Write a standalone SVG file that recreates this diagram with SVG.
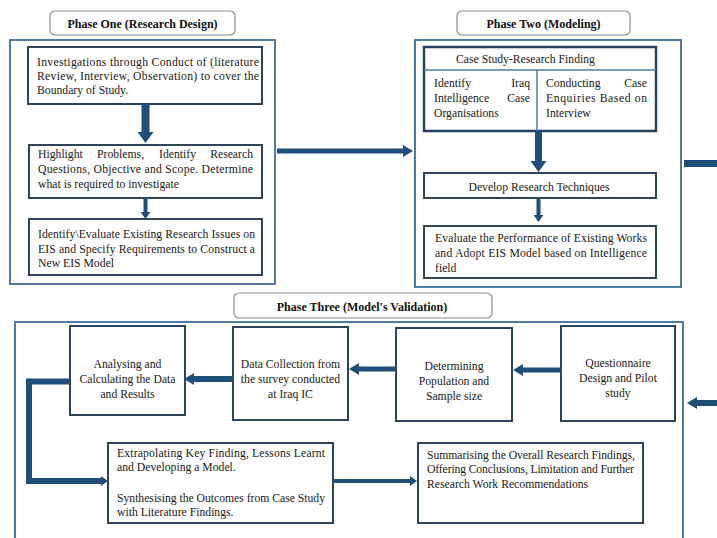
<svg xmlns="http://www.w3.org/2000/svg" width="717" height="538" viewBox="0 0 717 538">
<style>
.bg{fill:#ffffff}
.phase{fill:none;stroke:#4f7ca3;stroke-width:2}
.title{fill:#ffffff;stroke:#8c8c8c;stroke-width:1.2}
.box{fill:#ffffff;stroke:#2e4559;stroke-width:2}
.cbox{fill:#ffffff;stroke:#24415f;stroke-width:2.5}
.div{stroke:#4f7ca3;stroke-width:1.5}
.t{font-family:"Liberation Serif","Times New Roman",serif;font-size:11.7px;fill:#1a1a1a}
.tb{font-family:"Liberation Serif","Times New Roman",serif;font-size:12px;font-weight:bold;fill:#111111}
.c{text-anchor:middle}
.e{text-anchor:end}
.con{stroke:#1f4e79;fill:none}
.head{fill:#1f4e79}
</style>
<defs>
<marker id="hl" markerUnits="userSpaceOnUse" markerWidth="20" markerHeight="20" refX="0" refY="0" orient="auto" overflow="visible"><path class="head" d="M0,-8 L11,0 L0,8 z"/></marker>
<marker id="hm" markerUnits="userSpaceOnUse" markerWidth="20" markerHeight="20" refX="0" refY="0" orient="auto" overflow="visible"><path class="head" d="M0,-6 L10,0 L0,6 z"/></marker>
<marker id="hs" markerUnits="userSpaceOnUse" markerWidth="20" markerHeight="20" refX="0" refY="0" orient="auto" overflow="visible"><path class="head" d="M0,-5 L7,0 L0,5 z"/></marker>
</defs>
<rect class="bg" x="0" y="0" width="717" height="538"/>

<g id="phase-one">
<rect class="phase" x="10" y="40" width="265" height="244"/>
<rect class="title" x="50" y="11" width="185" height="24" rx="5"/>
<text class="tb c" x="142.5" y="28">Phase One (Research Design)</text>
</g>
<g id="p1-box1">
<rect class="box" x="28" y="47" width="234" height="57"/>
<text class="t" x="37" y="66" textLength="222" lengthAdjust="spacing">Investigations through Conduct of (literature</text>
<text class="t" x="37" y="80" textLength="222" lengthAdjust="spacing">Review, Interview, Observation) to cover the</text>
<text class="t" x="37" y="94">Boundary of Study.</text>
</g>
<g id="p1-box2">
<rect class="box" x="29" y="145" width="233" height="53"/>
<text class="t" x="38" y="158">Highlight</text>
<text class="t" x="97" y="158">Problems,</text>
<text class="t" x="159" y="158">Identify</text>
<text class="t e" x="253" y="158">Research</text>
<text class="t" x="38" y="173" textLength="215" lengthAdjust="spacing">Questions, Objective and Scope. Determine</text>
<text class="t" x="38" y="188">what is required to investigate</text>
</g>
<g id="p1-box3">
<rect class="box" x="29" y="219" width="233" height="56"/>
<text class="t" x="38" y="238" textLength="217" lengthAdjust="spacing">Identify\Evaluate Existing Research Issues on</text>
<text class="t" x="38" y="253" textLength="217" lengthAdjust="spacing">EIS and Specify Requirements to Construct a</text>
<text class="t" x="38" y="267">New EIS Model</text>
</g>

<g id="phase-two">
<rect class="phase" x="415" y="40" width="266" height="247"/>
<rect class="title" x="457" y="11" width="173" height="24" rx="5"/>
<text class="tb c" x="543.5" y="28">Phase Two (Modeling)</text>
</g>
<g id="p2-case">
<rect class="cbox" x="424" y="47" width="232" height="84"/>
<line class="div" x1="424" y1="70" x2="656" y2="70"/>
<line class="div" x1="537" y1="70" x2="537" y2="131"/>
<text class="t" x="456" y="63">Case Study-Research Finding</text>
<text class="t" x="434" y="87">Identify</text>
<text class="t e" x="530" y="87">Iraq</text>
<text class="t" x="434" y="102">Intelligence</text>
<text class="t e" x="530" y="102">Case</text>
<text class="t" x="434" y="117">Organisations</text>
<text class="t" x="546" y="87">Conducting</text>
<text class="t e" x="647" y="87">Case</text>
<text class="t" x="546" y="102" textLength="101" lengthAdjust="spacing">Enquiries Based on</text>
<text class="t" x="546" y="117">Interview</text>
</g>
<g id="p2-develop">
<rect class="box" x="424" y="173" width="232" height="25"/>
<text class="t c" x="539" y="191">Develop Research Techniques</text>
</g>
<g id="p2-evaluate">
<rect class="box" x="424" y="226" width="232" height="52"/>
<text class="t" x="435" y="242" textLength="212" lengthAdjust="spacing">Evaluate the Performance of Existing Works</text>
<text class="t" x="435" y="257" textLength="212" lengthAdjust="spacing">and Adopt EIS  Model based on Intelligence</text>
<text class="t" x="435" y="272">field</text>
</g>

<g id="phase-three">
<rect class="phase" x="15" y="322" width="668" height="240"/>
<rect class="title" x="234" y="293" width="258" height="25" rx="5"/>
<text class="tb c" x="362" y="311">Phase Three (Model's Validation)</text>
</g>
<g id="p3-analysing">
<rect class="box" x="70" y="326" width="115" height="89"/>
<text class="t c" x="127.5" y="368">Analysing and</text>
<text class="t c" x="127.5" y="383">Calculating the Data</text>
<text class="t c" x="127.5" y="398">and Results</text>
</g>
<g id="p3-collection">
<rect class="box" x="233" y="327" width="115" height="93"/>
<text class="t c" x="290.5" y="368">Data Collection from</text>
<text class="t c" x="290.5" y="383">the survey conducted</text>
<text class="t c" x="290.5" y="398">at Iraq IC</text>
</g>
<g id="p3-determining">
<rect class="box" x="396" y="328" width="116" height="93"/>
<text class="t c" x="454" y="370">Determining</text>
<text class="t c" x="454" y="385">Population and</text>
<text class="t c" x="454" y="400">Sample size</text>
</g>
<g id="p3-questionnaire">
<rect class="box" x="561" y="326" width="114" height="95"/>
<text class="t c" x="618" y="367">Questionnaire</text>
<text class="t c" x="618" y="382">Design and Pilot</text>
<text class="t c" x="618" y="397">study</text>
</g>
<g id="p3-extrapolating">
<rect class="box" x="108" y="443" width="225" height="80"/>
<text class="t" x="117" y="457" textLength="208" lengthAdjust="spacing">Extrapolating Key Finding, Lessons Learnt</text>
<text class="t" x="117" y="471">and Developing a Model.</text>
<text class="t" x="117" y="502" textLength="208" lengthAdjust="spacing">Synthesising the Outcomes from Case Study</text>
<text class="t" x="117" y="516">with Literature Findings.</text>
</g>
<g id="p3-summarising">
<rect class="box" x="418" y="443" width="225" height="80"/>
<text class="t" x="427" y="459" textLength="208" lengthAdjust="spacing">Summarising the Overall Research Findings,</text>
<text class="t" x="427" y="473" textLength="207" lengthAdjust="spacing">Offering Conclusions, Limitation and Further</text>
<text class="t" x="427" y="488">Research Work Recommendations</text>
</g>

<g id="connectors">
<line class="con" x1="145.5" y1="104" x2="145.5" y2="132" stroke-width="8" marker-end="url(#hl)"/>
<line class="con" x1="145.5" y1="198" x2="145.5" y2="212" stroke-width="4" marker-end="url(#hs)"/>
<line class="con" x1="277" y1="151" x2="403" y2="151" stroke-width="5" marker-end="url(#hm)"/>
<line class="con" x1="538.5" y1="131" x2="538.5" y2="161" stroke-width="7" marker-end="url(#hl)"/>
<line class="con" x1="538.5" y1="198" x2="538.5" y2="215" stroke-width="4" marker-end="url(#hs)"/>
<line class="con" x1="684" y1="163.5" x2="717" y2="163.5" stroke-width="7"/>
<line class="con" x1="717" y1="403" x2="697" y2="403" stroke-width="6" marker-end="url(#hm)"/>
<line class="con" x1="561" y1="370" x2="523" y2="370" stroke-width="5" marker-end="url(#hm)"/>
<line class="con" x1="396" y1="369" x2="359" y2="369" stroke-width="5" marker-end="url(#hm)"/>
<line class="con" x1="233" y1="379" x2="194" y2="379" stroke-width="6" marker-end="url(#hm)"/>
<path class="con" d="M70,381.5 H29 V481 H101" stroke-width="6" stroke-linejoin="miter" marker-end="url(#hs)"/>
<line class="con" x1="333" y1="481" x2="410" y2="481" stroke-width="4" marker-end="url(#hs)"/>
</g>
</svg>
